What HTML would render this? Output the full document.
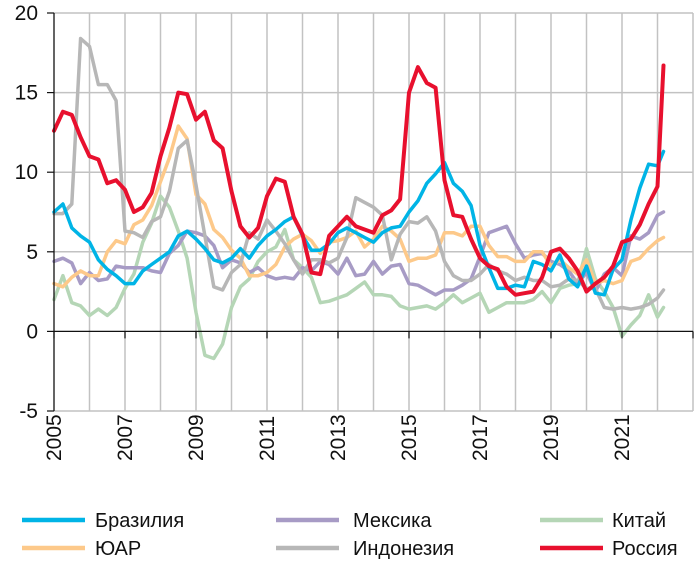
<!DOCTYPE html>
<html><head><meta charset="utf-8"><style>
body{margin:0;background:#fff;}
svg text{font-family:"Liberation Sans","DejaVu Sans",sans-serif;fill:#111;}
</style></head><body>
<svg id="chart" width="700" height="564" viewBox="0 0 700 564" xmlns="http://www.w3.org/2000/svg">
<g id="grid"></g>
<g id="series"></g>
<g id="axes"></g>
<g id="legend"></g>
</svg>
<script>
const yTicks = [20, 15, 10, 5, 0, -5];
const xTickYears = [2005, 2007, 2009, 2011, 2013, 2015, 2017, 2019, 2021];
const seriesNames = ["Бразилия","Мексика","Китай","ЮАР","Индонезия","Россия"];
const brazil = [7.5,8.0,6.5,6.0,5.6,4.5,3.9,3.5,3.0,3.0,3.8,4.2,4.6,5.0,6.0,6.3,5.8,5.2,4.5,4.3,4.6,5.2,4.6,5.4,6.0,6.4,6.9,7.2,6.0,5.1,5.1,5.5,6.2,6.5,6.2,5.9,5.6,6.2,6.5,6.6,7.5,8.2,9.3,9.9,10.6,9.3,8.8,7.9,5.4,4.0,2.7,2.7,2.9,2.8,4.4,4.2,3.8,4.8,3.3,2.8,4.1,2.4,2.3,3.9,4.5,7.0,9.0,10.5,10.4,11.3];
const mexico = [4.4,4.6,4.3,3.0,3.7,3.2,3.3,4.1,4.0,4.0,4.0,3.8,3.7,4.9,5.4,6.3,6.2,6.0,5.4,4.0,4.5,4.3,3.7,4.0,3.5,3.3,3.4,3.3,4.0,3.8,4.4,4.2,3.6,4.6,3.5,3.6,4.4,3.6,4.1,4.2,3.0,2.9,2.6,2.3,2.6,2.6,2.9,3.3,4.7,6.2,6.4,6.6,5.5,4.6,4.8,4.9,4.4,4.2,3.8,3.0,3.7,2.5,3.6,4.0,3.5,6.0,5.8,6.2,7.3,7.5];
const china = [2.0,3.5,1.8,1.6,1.0,1.4,1.0,1.5,2.7,3.6,5.6,6.8,8.5,7.8,6.3,4.6,1.2,-1.5,-1.7,-0.8,1.5,2.8,3.3,4.4,5.0,5.3,6.4,4.5,4.0,3.4,1.8,1.9,2.1,2.3,2.7,3.1,2.3,2.3,2.2,1.6,1.4,1.5,1.6,1.4,1.8,2.3,1.8,2.1,2.4,1.2,1.5,1.8,1.8,1.8,2.0,2.5,1.8,2.7,2.9,3.0,5.2,3.3,2.5,1.5,-0.3,0.4,1.0,2.3,0.9,1.5];
const southAfrica = [3.0,2.8,3.4,3.8,3.5,3.5,5.0,5.7,5.5,6.7,7.0,7.9,9.4,10.9,12.9,12.1,8.6,8.0,6.4,5.9,5.1,4.6,3.5,3.5,3.7,4.2,5.3,5.8,6.1,5.7,4.9,5.6,5.7,5.9,6.3,5.3,5.8,6.6,6.3,5.8,4.4,4.6,4.6,4.8,6.2,6.2,6.0,6.6,6.6,5.4,4.7,4.7,4.4,4.4,5.0,5.0,4.1,4.5,4.0,3.6,4.5,3.0,3.2,3.0,3.2,4.4,4.6,5.2,5.7,5.9];
const indonesia = [7.4,7.4,8.0,18.4,17.9,15.5,15.5,14.5,6.3,6.2,5.9,6.9,7.2,8.8,11.5,12.0,9.2,6.0,2.8,2.6,3.7,4.2,6.2,5.8,7.0,6.3,5.5,4.5,3.6,4.5,4.5,4.3,4.6,5.9,8.4,8.1,7.8,7.3,4.5,6.1,6.9,6.8,7.2,6.3,4.4,3.5,3.2,3.2,3.6,4.2,3.8,3.6,3.2,3.4,3.2,3.2,2.8,2.9,3.3,3.2,2.7,2.7,1.5,1.4,1.5,1.4,1.5,1.7,2.1,2.6];
const russia = [12.6,13.8,13.6,12.2,11.0,10.8,9.3,9.5,8.9,7.5,7.8,8.7,11.0,12.8,15.0,14.9,13.3,13.8,12.0,11.5,8.8,6.6,5.9,6.5,8.5,9.6,9.4,7.2,6.1,3.7,3.6,6.0,6.6,7.2,6.6,6.4,6.2,7.3,7.6,8.3,15.0,16.6,15.6,15.3,9.5,7.3,7.2,5.8,4.6,4.1,3.9,2.8,2.3,2.4,2.5,3.4,5.0,5.2,4.6,3.8,2.5,3.0,3.4,4.1,5.6,5.8,6.7,8.0,9.1,16.7];
const dates = [];
for (let i = 0; i < 69; i++) dates.push(2005 + i * 0.25);
dates.push(2022.17);

const NS = "http://www.w3.org/2000/svg";
const L = 54, R = 693, T = 13, B = 411;
const x = yr => L + (yr - 2005) * (R - L) / 18;
const y = v => T + (20 - v) * (B - T) / 25;
function mk(tag, attrs, parent){const e=document.createElementNS(NS,tag);for(const k in attrs)e.setAttribute(k,attrs[k]);parent.appendChild(e);return e;}
const grid = document.getElementById('grid'), axes = document.getElementById('axes'), ser = document.getElementById('series'), leg = document.getElementById('legend');

for (const t of yTicks) {
  if (t !== 0) {
    const g = mk('line',{x1:L,x2:R,y1:y(t),y2:y(t),stroke:'#c2c2c2','stroke-width':1.5},grid);
    
    
  }
  const tk = mk('line',{x1:L-7,x2:L,y1:y(t),y2:y(t),stroke:'#111','stroke-width':1.2},axes);
  
  
  const lb = mk('text',{x:L-16,y:y(t)+7,'text-anchor':'end','font-size':21},axes);
  lb.textContent = t;
  
  
}
for (let yr = 2006; yr <= 2023; yr++) {
  const g = mk('line',{x1:x(yr),x2:x(yr),y1:T,y2:B,stroke:'#c2c2c2','stroke-width':1.5},grid);
  
  
}
const ya = mk('line',{x1:L,x2:L,y1:T,y2:B,stroke:'#111','stroke-width':1.3},axes);


const xa = mk('line',{x1:L,x2:R,y1:y(0),y2:y(0),stroke:'#111','stroke-width':1.3},axes);


for (const yr of xTickYears.concat([2023])) {
  const tk = mk('line',{x1:x(yr),x2:x(yr),y1:y(0),y2:y(0)+7,stroke:'#111','stroke-width':1.2},axes);
  
  
}
for (const yr of xTickYears) {
  const lb = mk('text',{x:0,y:0,'font-size':21,transform:`translate(${x(yr)+7},${B+50}) rotate(-90)`},axes);
  lb.textContent = yr;
  
  
}

const colors = ['#00b4e6','#a79bc5','#b5d6b6','#fdc98a','#b7b7b7','#e8102e'];
const data = [brazil, mexico, china, southAfrica, indonesia, russia];
const keys = ['brazil','mexico','china','south-africa','indonesia','russia'];
const order = [2,1,3,4,0,5];
for (const i of order) {
  const d = data[i].map((v,j)=>(j?'L':'M')+x(dates[j]).toFixed(1)+','+y(v).toFixed(1)).join('');
  const p = mk('path',{d:d,fill:'none',stroke:colors[i],'stroke-width':i===5?4:3.5,'stroke-linejoin':'round','stroke-linecap':'round'},ser);
  
  
}
const legPos = [[22,95,520],[276,353,520],[540,612,520],[22,95,548],[276,353,548],[540,612,548]];
for (let i = 0; i < 6; i++) {
  const [lx, tx, ly] = legPos[i];
  const g = mk('g',{},leg);
  
  
  mk('line',{x1:lx,x2:lx+63,y1:ly,y2:ly,stroke:colors[i],'stroke-width':4.5},g);
  const t = mk('text',{x:tx,y:ly+7,'font-size':20},g);
  t.textContent = seriesNames[i];
}
</script>
</body></html>
